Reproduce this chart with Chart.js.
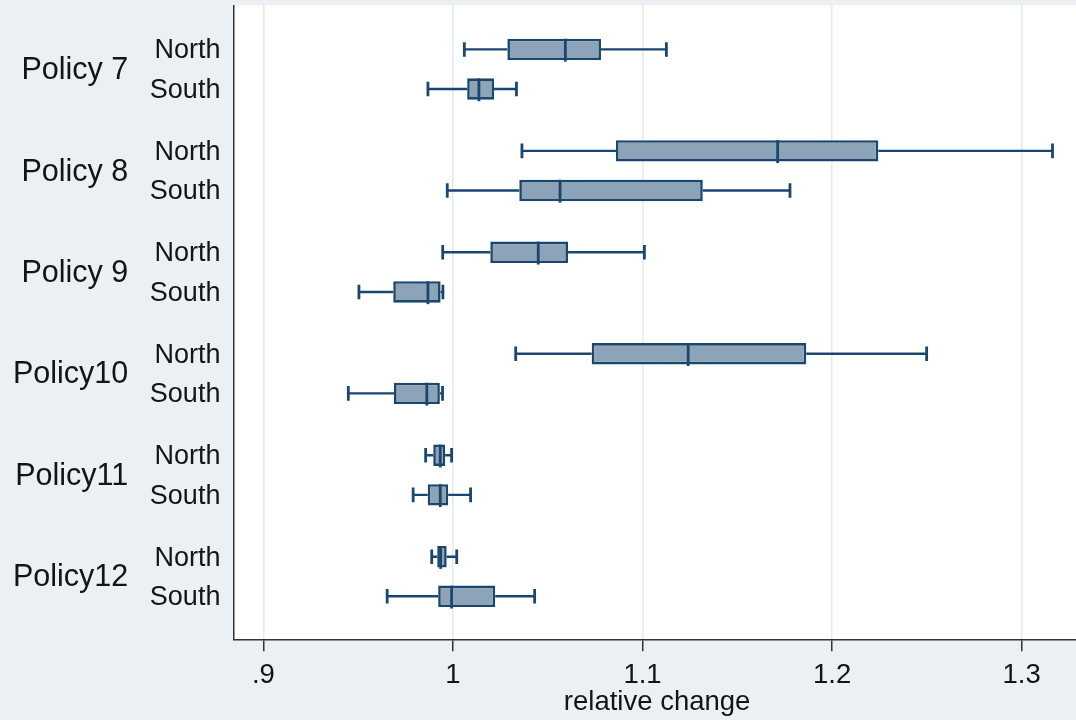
<!DOCTYPE html>
<html>
<head>
<meta charset="utf-8">
<script src="https://cdn.jsdelivr.net/npm/chart.js@4.4.1/dist/chart.umd.min.js"></script>
<style>
html,body{margin:0;padding:0;background:#eaf0f3;overflow:hidden;}
#wrap{width:1076px;height:720px;overflow:hidden;position:relative;background:#eaf0f3;}
canvas{display:block;}
</style>
</head>
<body>
<div id="wrap"><canvas id="c" width="1080" height="720"></canvas></div>
<script>
// ---- data ----
const policies = ['Policy 7', 'Policy 8', 'Policy 9', 'Policy10', 'Policy11', 'Policy12'];
const seriesNames = ['North', 'South'];

const northLow  = [1.0060, 1.0364, 0.9946, 1.0331, 0.9856, 0.9888];
const northQ1   = [1.0287, 1.0860, 1.0197, 1.0732, 0.9896, 0.9917];
const northMed  = [1.0593, 1.1713, 1.0450, 1.1241, 0.9933, 0.9935];
const northQ3   = [1.0781, 1.2244, 1.0607, 1.1864, 0.9959, 0.9967];
const northHigh = [1.1126, 1.3163, 1.1010, 1.2499, 0.9993, 1.0020];

const southLow  = [0.9868, 0.9970, 0.9504, 0.9448, 0.9790, 0.9653];
const southQ1   = [1.0075, 1.0350, 0.9685, 0.9689, 0.9867, 0.9922];
const southMed  = [1.0137, 1.0565, 0.9868, 0.9862, 0.9933, 0.9993];
const southQ3   = [1.0217, 1.1318, 0.9935, 0.9931, 0.9975, 1.0223];
const southHigh = [1.0335, 1.1778, 0.9947, 0.9945, 1.0093, 1.0431];

const xTickValues = [0.9, 1.0, 1.1, 1.2, 1.3];
const xTickLabels = ['.9', '1', '1.1', '1.2', '1.3'];
const xTitle = 'relative change';

// ---- styles ----
const FONT = "'Liberation Sans', Arial, sans-serif";
const lineColor = '#1a476f';
const boxFill = '#8ca3b8';
const textColor = '#141414';

const boxPlugin = {
  id: 'boxParts',
  beforeDraw(chart) {
    const {ctx, chartArea: a} = chart;
    ctx.save();
    ctx.fillStyle = '#ffffff';
    ctx.fillRect(a.left, a.top, a.right - a.left, a.bottom - a.top);
    ctx.restore();
  },
  beforeDatasetsDraw(chart) {
    const ctx = chart.ctx, xs = chart.scales.x;
    chart.data.datasets.forEach((ds, di) => {
      const meta = chart.getDatasetMeta(di);
      meta.data.forEach((bar, i) => {
        const {y, height} = bar.getProps(['y', 'height'], true);
        const pLo = xs.getPixelForValue(ds.lows[i]);
        const pQ1 = xs.getPixelForValue(ds.data[i][0]);
        const pQ3 = xs.getPixelForValue(ds.data[i][1]);
        const pHi = xs.getPixelForValue(ds.highs[i]);
        ctx.save();
        ctx.strokeStyle = lineColor;
        ctx.lineWidth = 2.4;
        ctx.beginPath();
        ctx.moveTo(pLo, y); ctx.lineTo(pQ1, y);
        ctx.moveTo(pQ3, y); ctx.lineTo(pHi, y);
        ctx.stroke();
        ctx.lineWidth = 2.8;
        const capH = height * 0.68;
        ctx.beginPath();
        ctx.moveTo(pLo, y - capH / 2); ctx.lineTo(pLo, y + capH / 2);
        ctx.moveTo(pHi, y - capH / 2); ctx.lineTo(pHi, y + capH / 2);
        ctx.stroke();
        ctx.restore();
      });
    });
  },
  afterDatasetsDraw(chart) {
    const ctx = chart.ctx, xs = chart.scales.x;
    chart.data.datasets.forEach((ds, di) => {
      const meta = chart.getDatasetMeta(di);
      meta.data.forEach((bar, i) => {
        const {y, height} = bar.getProps(['y', 'height'], true);
        const pM = xs.getPixelForValue(ds.medians[i]);
        ctx.save();
        ctx.strokeStyle = lineColor;
        ctx.lineWidth = 2.8;
        ctx.beginPath();
        ctx.moveTo(pM, y - height / 2);
        ctx.lineTo(pM, y + height / 2 + 1.5);
        ctx.stroke();
        ctx.restore();
      });
    });
  },
  afterDraw(chart) {
    const ctx = chart.ctx;
    const right = chart.chartArea.left - 13.8;
    chart.data.datasets.forEach((ds, di) => {
      const meta = chart.getDatasetMeta(di);
      meta.data.forEach((bar) => {
        const {y} = bar.getProps(['y'], true);
        ctx.save();
        ctx.fillStyle = textColor;
        ctx.font = '27px ' + FONT;
        ctx.textAlign = 'right';
        ctx.textBaseline = 'middle';
        ctx.fillText(ds.label, right, y + 1.5);
        ctx.restore();
      });
    });
  }
};

const chart = new Chart(document.getElementById('c'), {
  type: 'bar',
  data: {
    labels: policies,
    datasets: [
      {
        label: seriesNames[0],
        data: northQ1.map((q, i) => [q, northQ3[i]]),
        lows: northLow, highs: northHigh, medians: northMed,
        backgroundColor: boxFill, borderColor: lineColor, borderWidth: 2.6, borderSkipped: false
      },
      {
        label: seriesNames[1],
        data: southQ1.map((q, i) => [q, southQ3[i]]),
        lows: southLow, highs: southHigh, medians: southMed,
        backgroundColor: boxFill, borderColor: lineColor, borderWidth: 2.6, borderSkipped: false
      }
    ]
  },
  options: {
    indexAxis: 'y',
    responsive: false,
    animation: false,
    devicePixelRatio: 1,
    categoryPercentage: 0.781,
    barPercentage: 0.54,
    layout: {padding: {top: 5.3, left: 0, right: 0, bottom: 0}},
    plugins: {legend: {display: false}, tooltip: {enabled: false}},
    scales: {
      x: {
        type: 'linear',
        min: 0.8846,
        max: 1.3308,
        afterBuildTicks: (s) => { s.ticks = xTickValues.map(v => ({value: v})); },
        afterFit: (s) => { s.height = 80.7; s.paddingLeft = 0; s.paddingRight = 0; s.paddingTop = 0; s.paddingBottom = 0; },
        grid: {color: '#e4eaed', lineWidth: 1.5, drawTicks: true, tickLength: 12, tickColor: '#333333', tickWidth: 1.5},
        border: {display: true, color: '#333333', width: 1.5},
        ticks: {
          callback: (v, i) => xTickLabels[i],
          font: {family: FONT, size: 27.5},
          color: textColor,
          padding: 7.5,
          maxRotation: 0,
          autoSkip: false
        },
        title: {display: true, text: xTitle, font: {family: FONT, size: 27.5}, color: textColor, padding: {top: 0, bottom: 1.4}}
      },
      y: {
        type: 'category',
        afterBuildTicks: (s) => { s._startValue = -0.630; s._valueRange = 6.249; },
        afterFit: (s) => { s.width = 234.2; s.paddingLeft = 0; s.paddingRight = 0; s.paddingTop = 0; s.paddingBottom = 0; },
        grid: {display: false, drawTicks: false},
        border: {display: true, color: '#333333', width: 1.5},
        ticks: {
          font: {family: FONT, size: 30.5},
          color: textColor,
          padding: 106,
          labelOffset: 1.5,
          autoSkip: false
        }
      }
    }
  },
  plugins: [boxPlugin]
});
</script>
</body>
</html>
